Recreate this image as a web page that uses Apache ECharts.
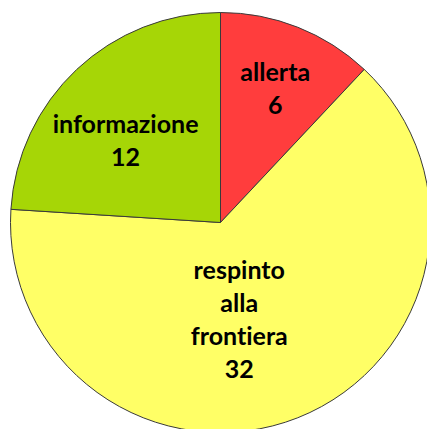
<!DOCTYPE html>
<html>
<head>
<meta charset="utf-8">
<script src="https://cdn.jsdelivr.net/npm/echarts@6/dist/echarts.min.js"></script>
<style>
html,body{margin:0;padding:0;background:#fff;}
#chart{width:427px;height:429px;font-variant-ligatures:none;font-feature-settings:"liga" 0,"clig" 0;}
#chart text{font-variant-ligatures:none;font-feature-settings:"liga" 0,"clig" 0;}
</style>
</head>
<body>
<div id="chart"></div>
<script>
const categories = ['allerta', 'respinto alla frontiera', 'informazione'];
const values = [6, 32, 12];
const colors = ['#FF3D3D', '#FFFF66', '#A6D606'];

const labelShift = [[15, -35], [-21, -4], [-21, -4]];

const chart = echarts.init(document.getElementById('chart'), null, { renderer: 'svg' });
chart.setOption({
  animation: false,
  backgroundColor: '#ffffff',
  series: [{
    type: 'pie',
    center: [220.5, 222.5],
    radius: [0, 210],
    startAngle: 90,
    clockwise: true,
    avoidLabelOverlap: false,
    data: categories.map((c, i) => ({
      name: c,
      value: values[i],
      itemStyle: { color: colors[i] }
    })),
    itemStyle: { borderColor: '#3a3a3a', borderWidth: 1 },
    label: {
      show: true,
      position: 'inside',
      formatter: p => p.name.split(' ').join('\n') + '\n' + p.value,
      fontFamily: 'Lato',
      fontWeight: 'bold',
      fontSize: 25,
      lineHeight: 33,
      color: '#000',
      align: 'center'
    },
    labelLine: { show: false },
    labelLayout: p => ({ dx: labelShift[p.dataIndex][0], dy: labelShift[p.dataIndex][1] }),
    emphasis: { disabled: true }
  }]
});
</script>
</body>
</html>
